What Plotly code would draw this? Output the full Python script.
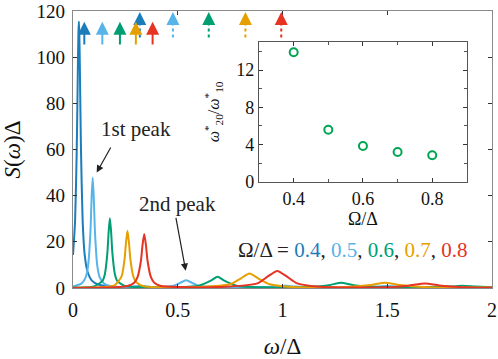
import plotly.graph_objects as go

# spectra, one list pair per Omega/Delta value
w_04 = [0.0, 0.01, 0.018, 0.023, 0.026, 0.028, 0.030, 0.033, 0.038, 0.046, 0.056, 0.07, 0.09, 0.12, 0.2, 0.3, 0.33, 0.36, 0.5, 0.62, 0.8, 1.2, 1.6, 2.0]
s_04 = [14.3, 29.3, 60.6, 94.0, 111.0, 115.5, 111.0, 94.0, 60.6, 29.3, 14.2, 6.8, 3.2, 1.5, 0.5, 0.6, 0.9, 0.5, 0.3, 0.4, 0.2, 0.2, 0.1, 0.1]

w_05 = [0.0, 0.04, 0.06, 0.072, 0.083, 0.089, 0.094, 0.099, 0.105, 0.116, 0.128, 0.15, 0.2, 0.3, 0.4, 0.48, 0.52, 0.54, 0.56, 0.6, 0.7, 0.9, 1.0, 1.02, 1.06, 1.2, 1.45, 1.5, 1.55, 1.7, 2.0]
s_05 = [0.6, 1.9, 4.5, 9.6, 24.0, 39.6, 47.8, 39.6, 24.0, 9.6, 4.5, 1.8, 0.5, 0.2, 0.3, 1.0, 2.6, 3.4, 2.6, 1.0, 0.4, 0.4, 0.9, 1.0, 0.6, 0.3, 0.6, 0.9, 0.6, 0.2, 0.1]

w_06 = [0.0, 0.1, 0.14, 0.152, 0.164, 0.17, 0.176, 0.182, 0.188, 0.2, 0.212, 0.25, 0.35, 0.5, 0.6, 0.66, 0.69, 0.72, 0.78, 0.9, 1.1, 1.22, 1.28, 1.34, 1.5, 1.8, 1.86, 1.92, 2.0]
s_06 = [0.2, 0.7, 3.0, 6.0, 15.1, 24.2, 30.2, 24.2, 15.1, 6.0, 3.0, 0.8, 0.3, 0.3, 1.0, 3.3, 4.9, 3.3, 1.0, 0.3, 0.3, 1.2, 2.3, 1.2, 0.3, 0.6, 1.0, 0.6, 0.3]

w_07 = [0.0, 0.15, 0.2, 0.232, 0.246, 0.253, 0.26, 0.267, 0.274, 0.288, 0.302, 0.34, 0.45, 0.6, 0.75, 0.8, 0.843, 0.885, 0.94, 1.05, 1.3, 1.42, 1.49, 1.56, 1.7, 2.0]
s_07 = [0.1, 0.4, 1.3, 5.0, 12.4, 19.8, 24.8, 19.8, 12.4, 5.0, 2.5, 0.7, 0.3, 0.4, 1.6, 4.1, 6.3, 4.1, 1.6, 0.4, 0.4, 1.3, 2.3, 1.3, 0.3, 0.2]

w_08 = [0.0, 0.2, 0.26, 0.292, 0.308, 0.324, 0.332, 0.34, 0.348, 0.356, 0.372, 0.388, 0.42, 0.5, 0.7, 0.88, 0.93, 0.975, 1.02, 1.07, 1.2, 1.5, 1.6, 1.68, 1.76, 1.9, 2.0]
s_08 = [0.05, 0.3, 0.9, 2.3, 4.7, 11.7, 18.7, 23.4, 18.7, 11.7, 4.7, 2.3, 0.9, 0.4, 0.4, 2.0, 5.0, 7.4, 5.0, 2.0, 0.4, 0.3, 1.0, 2.0, 1.0, 0.2, 0.1]

omegas = ["0.4", "0.5", "0.6", "0.7", "0.8"]
colors = ["#1b7dba", "#56b4e9", "#009e73", "#e69f00", "#e63322"]

# arrows at the top: solid = 1st peak markers, dotted = 2nd peak markers
solid_x = [0.054, 0.14, 0.224, 0.30, 0.38]
dotted_x = [0.319, 0.477, 0.648, 0.823, 0.994]

# inset data
inset_omega = [0.4, 0.5, 0.6, 0.7, 0.8]
inset_ratio = [13.9, 5.6, 3.85, 3.2, 2.85]

serif = "Liberation Serif, Times New Roman, serif"

fig = go.Figure()
for w, s, c in zip([w_04, w_05, w_06, w_07, w_08], [s_04, s_05, s_06, s_07, s_08], colors):
	fig.add_trace(go.Scatter(x=w, y=s, mode='lines', line=dict(color=c, width=2, shape='spline', smoothing=0.6),
							 showlegend=False, hoverinfo='skip'))

for x, c in zip(dotted_x, colors):
	fig.add_trace(go.Scatter(x=[x, x], y=[108.5, 116.5], mode='lines', line=dict(color=c, width=2, dash='dot'),
							 showlegend=False, hoverinfo='skip'))
	fig.add_annotation(x=x, y=119.6, ax=x, ay=116, xref='x', yref='y', axref='x', ayref='y', text='',
					   showarrow=True, arrowhead=2, arrowsize=1.3, arrowwidth=2, arrowcolor=c)

for x, c in zip(solid_x, colors):
	fig.add_annotation(x=x, y=115.3, ax=x, ay=104.8, xref='x', yref='y', axref='x', ayref='y', text='',
					   showarrow=True, arrowhead=2, arrowsize=1.3, arrowwidth=2, arrowcolor=c)

fig.add_trace(go.Scatter(x=inset_omega, y=inset_ratio, mode='markers', xaxis='x2', yaxis='y2',
						 marker=dict(symbol='circle-open', size=8, color='#00a651', line=dict(width=2)),
						 showlegend=False, hoverinfo='skip'))

# peak labels
fig.add_annotation(x=0.303, y=68.8, text="1st peak", showarrow=False, font=dict(family=serif, size=21, color='#222'))
fig.add_annotation(x=0.113, y=50, ax=0.184, ay=61.5, xref='x', yref='y', axref='x', ayref='y', text='',
				   showarrow=True, arrowhead=2, arrowsize=1.2, arrowwidth=1.2, arrowcolor='#222')
fig.add_annotation(x=0.50, y=36.5, text="2nd peak", showarrow=False, font=dict(family=serif, size=21, color='#222'))
fig.add_annotation(x=0.538, y=7.5, ax=0.49, ay=31, xref='x', yref='y', axref='x', ayref='y', text='',
				   showarrow=True, arrowhead=2, arrowsize=1.2, arrowwidth=1.2, arrowcolor='#222')

legend_text = "Ω/Δ = " + ", ".join(f"<span style='color:{c}'>{o}</span>" for o, c in zip(omegas, colors))
fig.add_annotation(x=1.335, y=16.5, text=legend_text, showarrow=False,
				   font=dict(family=serif, size=21, color='#222'))

axis_common = dict(showline=True, linewidth=1.3, mirror='ticks', ticks='inside',
				   tickcolor='#333', ticklen=4, showgrid=False, zeroline=False, automargin=False,
				   ticklabeloverflow='allow')

fig.update_layout(
	width=498, height=359, margin=dict(l=73, r=6, t=11, b=71),
	plot_bgcolor='white', paper_bgcolor='white',
	font=dict(family=serif, size=19, color='#111'),
	xaxis=dict(range=[0, 2], tickvals=[0, 0.5, 1, 1.5, 2], ticktext=["0", "0.5", "1", "1.5", "2"],
			   linecolor='#8a8a8a', tickfont=dict(family=serif, size=20, color='#111'), ticklabelstandoff=4,
			   title=dict(text="<i>ω</i>/Δ", font=dict(family=serif, size=23, color='#111'), standoff=24),
			   **axis_common),
	yaxis=dict(range=[0, 120], tickvals=[0, 20, 40, 60, 80, 100, 120],
			   linecolor='#8a8a8a', tickfont=dict(family=serif, size=19, color='#111'), ticklabelstandoff=3,
			   title=dict(text="<i>S</i>(<i>ω</i>)Δ", font=dict(family=serif, size=23, color='#111'), standoff=10),
			   **axis_common),
	xaxis2=dict(domain=[0.444, 0.940], anchor='y2', range=[0.3, 0.9], tickvals=[0.4, 0.6, 0.8],
				ticktext=["0.4", "0.6", "0.8"], minor=dict(dtick=0.1, ticks='inside', ticklen=3, tickcolor='#555'),
				linecolor='#555', tickfont=dict(family=serif, size=18, color='#111'),
				title=dict(text="Ω/Δ", font=dict(family=serif, size=18, color='#111'), standoff=4),
				**axis_common),
	yaxis2=dict(domain=[0.383, 0.888], anchor='x2', range=[0, 15], tickvals=[0, 4, 8, 12],
				minor=dict(dtick=2, ticks='inside', ticklen=3, tickcolor='#555'),
				linecolor='#555', tickfont=dict(family=serif, size=18, color='#111'),
				title=dict(text="<i>ω</i><sup>*</sup><sub>20</sub>/<i>ω</i><sup>*</sup><sub>10</sub>",
						   font=dict(family=serif, size=16, color='#111'), standoff=12),
				**axis_common),
)

fig.write_html("out.html", config={'displayModeBar': False},
			   post_script="document.body.style.margin='0';")
